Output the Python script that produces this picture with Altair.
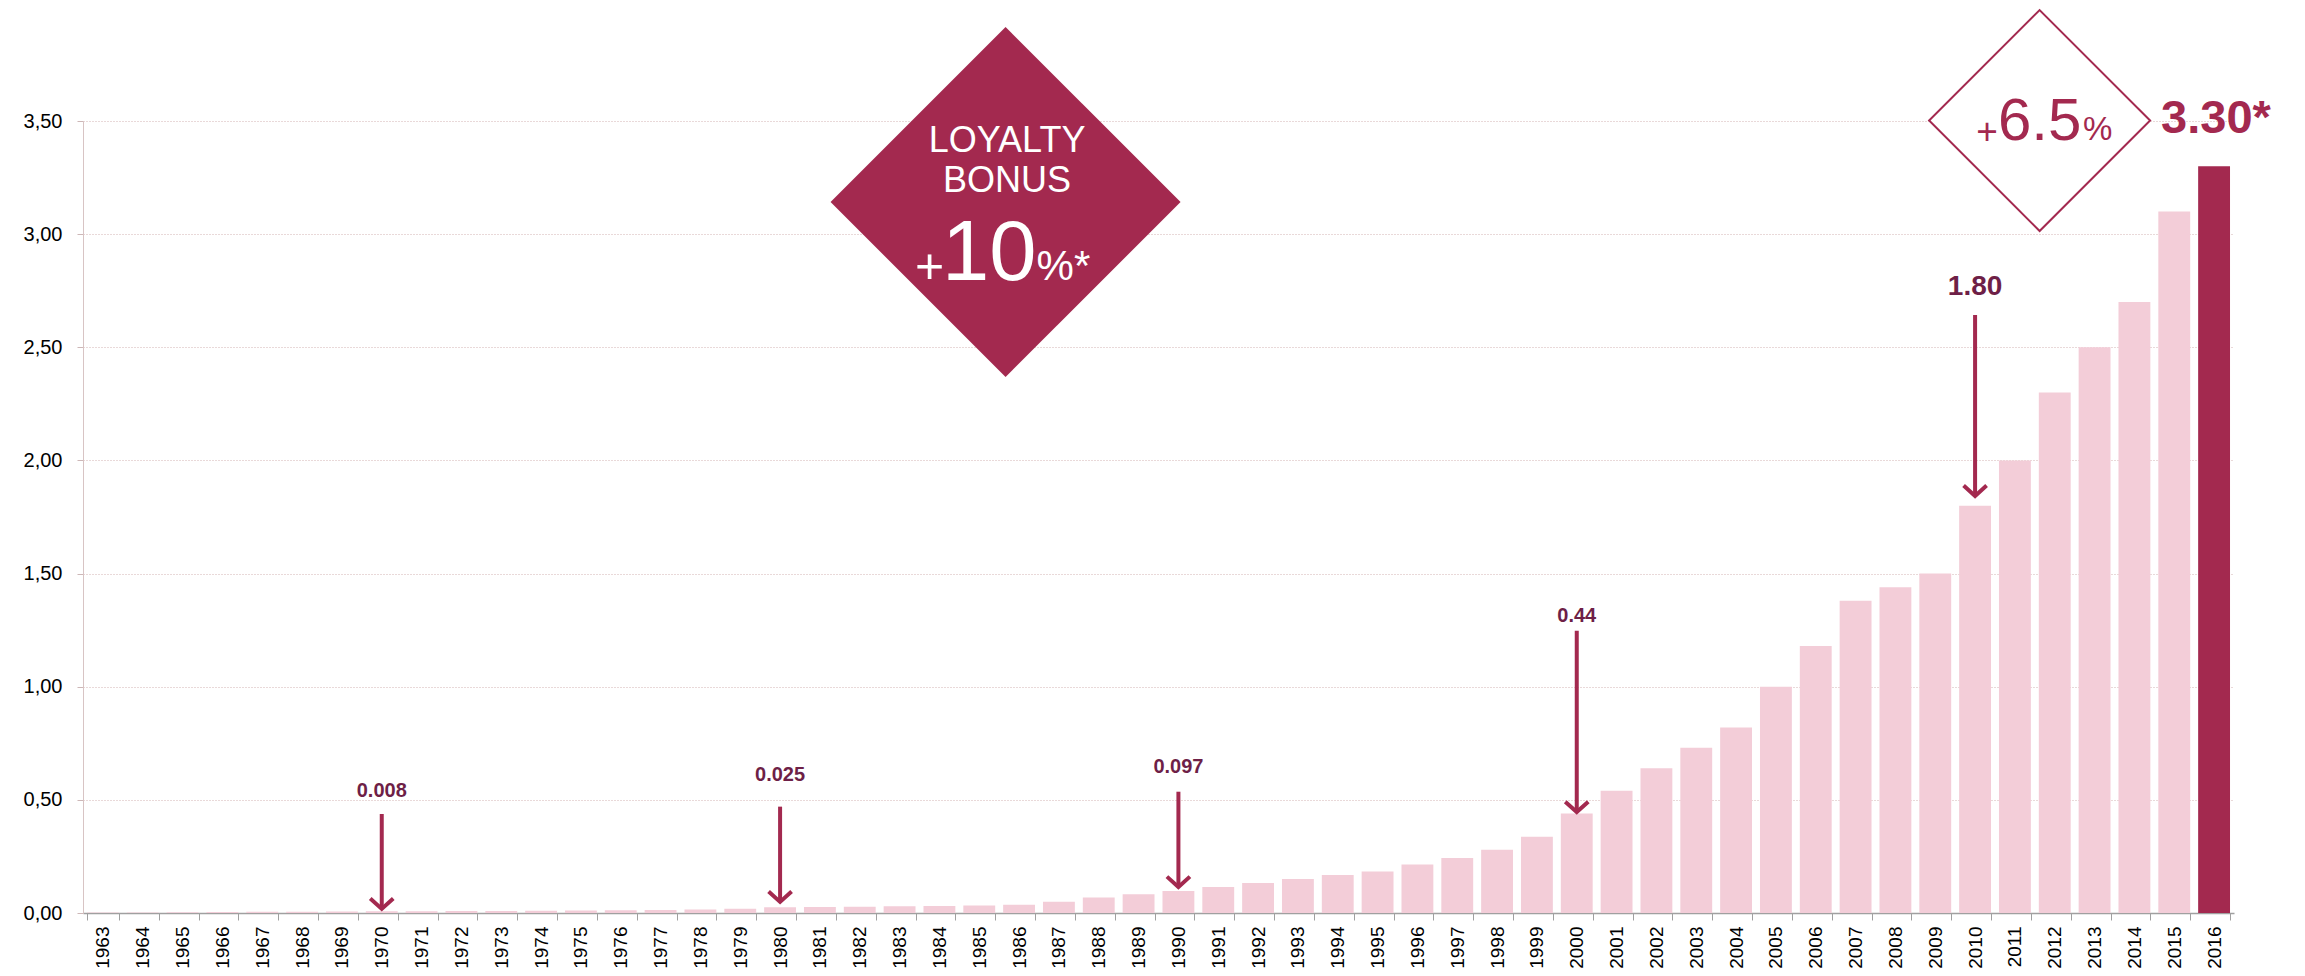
import altair as alt
import pandas as pd

FONT = "Liberation Sans"
DARK = "#a3294f"
PINK = "#f3cdd8"
LABEL_DARK = "#6e1f47"

# ---- data ----
years = [str(y) for y in range(1963, 2017)]
values = [0.002, 0.002, 0.003, 0.004, 0.005, 0.006, 0.007, 0.008, 0.008, 0.009,
          0.009, 0.010, 0.011, 0.012, 0.013, 0.015, 0.019, 0.025, 0.027, 0.028,
          0.030, 0.031, 0.033, 0.036, 0.050, 0.068, 0.083, 0.097, 0.115, 0.133,
          0.150, 0.168, 0.183, 0.214, 0.243, 0.280, 0.337, 0.440, 0.540, 0.640,
          0.730, 0.820, 1.000, 1.180, 1.380, 1.440, 1.500, 1.800, 2.000, 2.300,
          2.500, 2.700, 3.100, 3.300]
highlight_year = "2016"
y_ticks = [0, 0.5, 1.0, 1.5, 2.0, 2.5, 3.0, 3.5]

# arrow annotations
arrow_years = ["1970", "1980", "1990", "2000", "2010"]
arrow_labels = ["0.008", "0.025", "0.097", "0.44", "1.80"]
arrow_label_y = [0.514, 0.585, 0.62, 1.287, 2.731]
arrow_top = [0.4375, 0.47, 0.536, 1.2475, 2.643]
arrow_tip = [0.018, 0.049, 0.115, 0.446, 1.843]
arrow_label_size = [20, 20, 20, 20, 28]

df = pd.DataFrame({"year": years, "value": values})
df["hl"] = df["year"] == highlight_year
arrows = pd.DataFrame({"year": arrow_years, "label": arrow_labels, "ly": arrow_label_y,
                       "top": arrow_top, "tip": arrow_tip, "fs": arrow_label_size})

yscale = alt.Scale(domain=[0, 3.5], nice=False)
xscale = alt.Scale(paddingInner=0.2, paddingOuter=0.1)

X_AXIS = alt.Axis(title=None, labelAngle=-90, labelFontSize=19, labelFont=FONT,
                  labelColor="#000000", tickSize=7, tickColor="#a0a0a0",
                  domainColor="#a0a0a0", domainWidth=1.5, labelPadding=6,
                  tickBand="extent", grid=False, labelBaseline="middle")
Y_AXIS = alt.Axis(title=None, values=y_ticks,
                  labelExpr="replace(format(datum.value, '.2f'), '.', ',')",
                  labelFontSize=20, labelFont=FONT, labelColor="#000000",
                  tickSize=6, tickColor="#cdb7b7", domainColor="#d8c4c4",
                  labelPadding=15, grid=True, gridColor="#d2b3b3",
                  gridDash=[1, 2], gridWidth=1)


def xenc():
    return alt.X("year:O", sort=years, scale=xscale, axis=X_AXIS)


def yenc(field):
    return alt.Y(field, scale=yscale, axis=Y_AXIS)


bars = alt.Chart(df).mark_bar().encode(
    x=xenc(),
    y=yenc("value:Q"),
    color=alt.condition(alt.datum.hl, alt.value(DARK), alt.value(PINK)),
)

shafts = alt.Chart(arrows).mark_rule(color=DARK, strokeWidth=4, strokeCap="butt").encode(
    x=xenc(), y=yenc("top:Q"), y2="tip:Q")

chevrons = alt.Chart(arrows).mark_point(
    shape="M-1,-0.9L0,0L1,-0.9", size=529, filled=False, strokeWidth=4,
    color=DARK, opacity=1, strokeJoin="miter").encode(
    x=xenc(), y=yenc("tip:Q"))

arrow_text = alt.Chart(arrows).mark_text(
    font=FONT, fontWeight="bold", color=LABEL_DARK, baseline="alphabetic",
    align="center").encode(
    x=xenc(), y=yenc("ly:Q"), text="label:N",
    size=alt.Size("fs:Q", scale=None, legend=None))


def point_at(year, yv, **kw):
    d = pd.DataFrame({"year": [year], "yy": [yv]})
    return alt.Chart(d).mark_point(**kw).encode(x=xenc(), y=yenc("yy:Q"))


def text_at(txt, year, yv, size, dx=0, dy=0, color=DARK, align="center", weight="normal"):
    d = pd.DataFrame({"year": [year], "yy": [yv], "t": [txt]})
    return alt.Chart(d).mark_text(
        font=FONT, fontSize=size, fontWeight=weight, color=color, align=align,
        baseline="alphabetic", dx=dx, dy=dy).encode(
        x=xenc(), y=yenc("yy:Q"), text="t:N")


loyalty_diamond = point_at("1986", 3.142, shape="diamond", size=122500, filled=True,
                           color=DARK, opacity=1, xOffset=-13.5)
growth_diamond = point_at("2011", 3.502, shape="diamond", size=48841, filled=True,
                          fill="white", stroke=DARK, strokeWidth=2, opacity=1,
                          xOffset=24.7)

texts = [
    text_at("LOYALTY", "1986", 3.364, 36, dx=-12, color="white"),
    text_at("BONUS", "1986", 3.187, 36, dx=-12, color="white"),
    text_at("10", "1986", 2.797, 85, dx=-77, color="white", align="left"),
    text_at("+", "1986", 2.797, 50, dx=-75, dy=3, color="white", align="right"),
    text_at("%*", "1986", 2.797, 42, dx=17.5, color="white", align="left"),
    text_at("6.5", "2011", 3.416, 60, dx=24.7, color=DARK),
    text_at("+", "2011", 3.416, 37, dx=-17, dy=4, color=DARK, align="right"),
    text_at("%", "2011", 3.416, 33, dx=68, color=DARK, align="left"),
    text_at("3.30*", "2016", 3.447, 47, dx=-53, color=DARK, align="left", weight="bold"),
]

chart = alt.layer(bars, loyalty_diamond, growth_diamond, shafts, chevrons, arrow_text,
                  *texts).properties(
    width=2151, height=792,
    autosize=alt.AutoSizeParams(type="none"),
    padding={"left": 75, "top": 113, "right": 55, "bottom": 62},
    background="white",
).configure_view(stroke=None)

chart.save("out.html", embed_options={"renderer": "svg", "actions": False})
